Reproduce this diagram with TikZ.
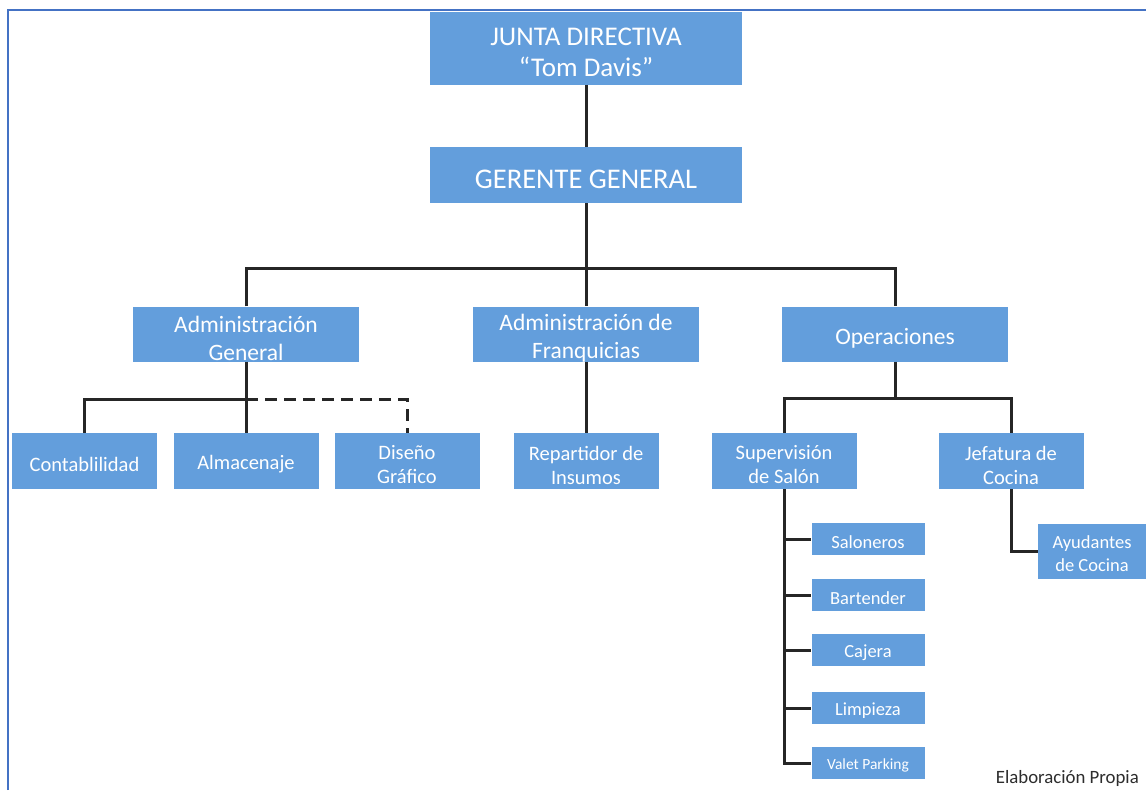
\documentclass[tikz,border=0pt]{standalone}
\usepackage{fontspec}
\setmainfont{Carlito}
\definecolor{boxblue}{RGB}{99,158,220}
\definecolor{frameblue}{RGB}{68,114,196}
\definecolor{notegray}{RGB}{45,45,45}
\begin{document}
\begin{tikzpicture}[x=1pt,y=-1pt,
  orgbox/.style={fill=boxblue,inner sep=0pt},
  lbl/.style={text=white,align=center,inner sep=0pt,yshift=-4pt},
  fa/.style={font=\fontsize{27}{31}\selectfont},
  fb/.style={font=\fontsize{23.5}{28}\selectfont},
  fc/.style={font=\fontsize{20.5}{24}\selectfont},
  fd/.style={font=\fontsize{18.5}{23}\selectfont},
  lvla/.style={orgbox,minimum width=312pt},
  lvlb/.style={orgbox,minimum width=226pt,minimum height=55pt},
  lvlc/.style={orgbox,minimum width=145pt,minimum height=56pt},
  lvld/.style={orgbox,minimum width=113pt,minimum height=32pt},
  link/.style={line width=3pt,black!85},
  dlink/.style={link,dash pattern=on 12pt off 7pt}]
\useasboundingbox (0,0) rectangle (1146,790);
\fill[white] (0,0) rectangle (1146,790);
\draw[frameblue,line width=2.5pt] (8,790) -- (8,10) -- (1146,10);

% level 1
\node[lvla,minimum height=73pt,label={[lbl,fa]center:JUNTA DIRECTIVA\\``Tom Davis''}] (junta) at (586,48) {};
\node[lvla,minimum height=56pt,label={[lbl,font=\fontsize{28.5}{33}\selectfont]center:GERENTE GENERAL}] (gerente) at (586,175) {};
% level 2
\node[lvlb,label={[lbl,fb]center:Administración\\General}] (ag) at (246,334) {};
\node[lvlb,label={[lbl,fb]center:Administración de\\Franquicias}] (af) at (586,334) {};
\node[lvlb,label={[lbl,fb]center:Operaciones}] (op) at (895,334) {};
% level 3
\node[lvlc,label={[lbl,fc,yshift=1pt]center:Contablilidad}] (cont) at (84.5,461) {};
\node[lvlc,label={[lbl,fc,yshift=1pt]center:Almacenaje}] (alm) at (246,461) {};
\node[lvlc,label={[lbl,fc]center:Diseño\\Gráfico}] (dis) at (407,461) {};
\node[lvlc,label={[lbl,fc]center:Repartidor de\\Insumos}] (rep) at (586,461) {};
\node[lvlc,label={[lbl,fc]center:Supervisión\\de Salón}] (sup) at (784,461) {};
\node[lvlc,label={[lbl,fc]center:Jefatura de\\Cocina}] (jef) at (1011,461) {};
% level 4
\node[lvld,label={[lbl,fd,yshift=1pt]center:Saloneros}] (sal) at (868,539) {};
\node[lvld,label={[lbl,fd,yshift=1pt]center:Bartender}] (bar) at (868,595) {};
\node[lvld,label={[lbl,fd,yshift=1pt]center:Cajera}] (caj) at (868,650) {};
\node[lvld,label={[lbl,fd,yshift=1pt]center:Limpieza}] (lim) at (868,708) {};
\node[lvld,label={[lbl,font=\fontsize{15.5}{18}\selectfont,yshift=2pt]center:Valet Parking}] (val) at (868,763) {};
\node[lvlc,minimum width=108pt,minimum height=55pt,label={[lbl,fd,yshift=1pt]center:Ayudantes\\de Cocina}] (ayu) at (1092,551) {};

\node[text=notegray,font=\fontsize{18.8}{22}\selectfont,anchor=east,inner sep=0pt] (nota) at (1139,778) {Elaboración Propia};

% hubs
\coordinate (h1) at (586,268);
\coordinate (h2) at (246,399);
\coordinate (h3) at (895,398);

% connectors
\draw[link] (junta.south) -- (gerente.north);
\draw[link] (gerente.south) -- (af.north);
\draw[link] (ag.north) |- (h1) -| (op.north);
\draw[link] (ag.south) -- (alm.north);
\draw[link] (cont.north) |- (h2);
\draw[dlink] (h2) -| (dis.north);
\draw[link] (af.south) -- (rep.north);
\draw[link] (op.south) -- (h3);
\draw[link] (sup.north) |- (h3) -| (jef.north);
\draw[link] (sup.south) |- (val.west);
\draw[link] (sup.south |- sal.west) -- (sal.west);
\draw[link] (sup.south |- bar.west) -- (bar.west);
\draw[link] (sup.south |- caj.west) -- (caj.west);
\draw[link] (sup.south |- lim.west) -- (lim.west);
\draw[link] (jef.south) |- (ayu.west);
\end{tikzpicture}
\end{document}
